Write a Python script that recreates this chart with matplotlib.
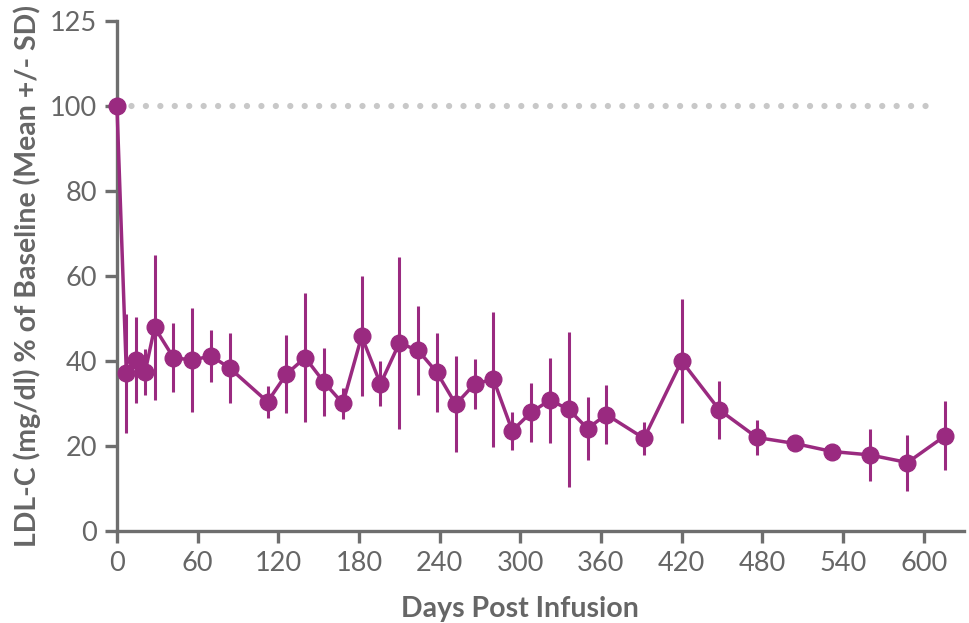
#!/usr/bin/env python3

import matplotlib
matplotlib.use("Agg")
import matplotlib.pyplot as plt

# LDL-C as % of baseline, mean and SD per visit
DAYS = [0, 7, 14, 21, 28, 42, 56, 70, 84, 112, 126, 140, 154, 168, 182, 196,
        210, 224, 238, 252, 266, 280, 294, 308, 322, 336, 350, 364, 392, 420,
        448, 476, 504, 532, 560, 588, 616]
MEAN = [100.0, 37.1, 40.2, 37.5, 47.9, 40.8, 40.2, 41.2, 38.3, 30.4, 36.9,
        40.8, 35.0, 30.0, 45.8, 34.6, 44.2, 42.5, 37.3, 29.8, 34.6, 35.7,
        23.6, 27.9, 30.8, 28.6, 24.1, 27.4, 21.8, 40.0, 28.5, 22.0, 20.6,
        18.7, 17.9, 16.1, 22.4]
SD = [0.0, 14.0, 10.2, 5.4, 17.1, 8.2, 12.2, 6.2, 8.2, 3.7, 9.2, 15.2, 8.0,
      3.6, 14.1, 5.3, 20.3, 10.4, 9.3, 11.3, 5.8, 15.9, 4.5, 6.9, 10.0, 18.3,
      7.5, 7.0, 3.9, 14.6, 6.8, 4.2, 1.5, 1.5, 6.2, 6.6, 8.1]

BASELINE = 100
BASELINE_END = 605

YTICKS = [0, 20, 40, 60, 80, 100, 120]
YTICK_LABELS = ['0', '20', '40', '60', '80', '100', '125']
XTICKS = [0, 60, 120, 180, 240, 300, 360, 420, 480, 540, 600]

PURPLE = '#9a2a80'
AXIS_GREY = '#6e6e6e'
TEXT_GREY = '#666666'

plt.rcParams.update({
    'font.family': ['Lato', 'DejaVu Sans'],
})

fig = plt.figure(figsize=(9.69, 6.23), dpi=100)
ax = fig.add_axes([0.1207, 0.1477, 0.8741, 0.8186])

# dotted baseline reference
ax.plot([0, BASELINE_END], [BASELINE, BASELINE], color='#c8c8c8', lw=4.5,
        ls=(0, (0.01, 2.3)), dash_capstyle='round', zorder=1)

ax.errorbar(DAYS, MEAN, yerr=SD, color=PURPLE, lw=2.5, elinewidth=2.2,
            capsize=0, marker='o', ms=12, mfc=PURPLE, mec=PURPLE,
            zorder=5, clip_on=False)

ax.set_xlim(0, 630)
ax.set_ylim(0, 120)
ax.set_xticks(XTICKS)
ax.set_yticks(YTICKS)
ax.set_yticklabels(YTICK_LABELS)

for side in ('top', 'right'):
    ax.spines[side].set_visible(False)
for side in ('left', 'bottom'):
    ax.spines[side].set_color(AXIS_GREY)
    ax.spines[side].set_linewidth(2.4)

ax.tick_params(axis='both', length=8.5, width=2.4, color=AXIS_GREY,
               labelcolor=TEXT_GREY, labelsize=19.5, pad=6)

ax.set_xlabel('Days Post Infusion', fontsize=20.5, fontweight='bold',
              color=TEXT_GREY)
ax.xaxis.set_label_coords(0.476, -0.127)
ax.set_ylabel('LDL-C (mg/dl) % of Baseline (Mean +/- SD)', fontsize=20.5,
              fontweight='bold', color=TEXT_GREY)
ax.yaxis.set_label_coords(-0.09, 0.5)

fig.savefig('out.png', dpi=100, facecolor='white')
